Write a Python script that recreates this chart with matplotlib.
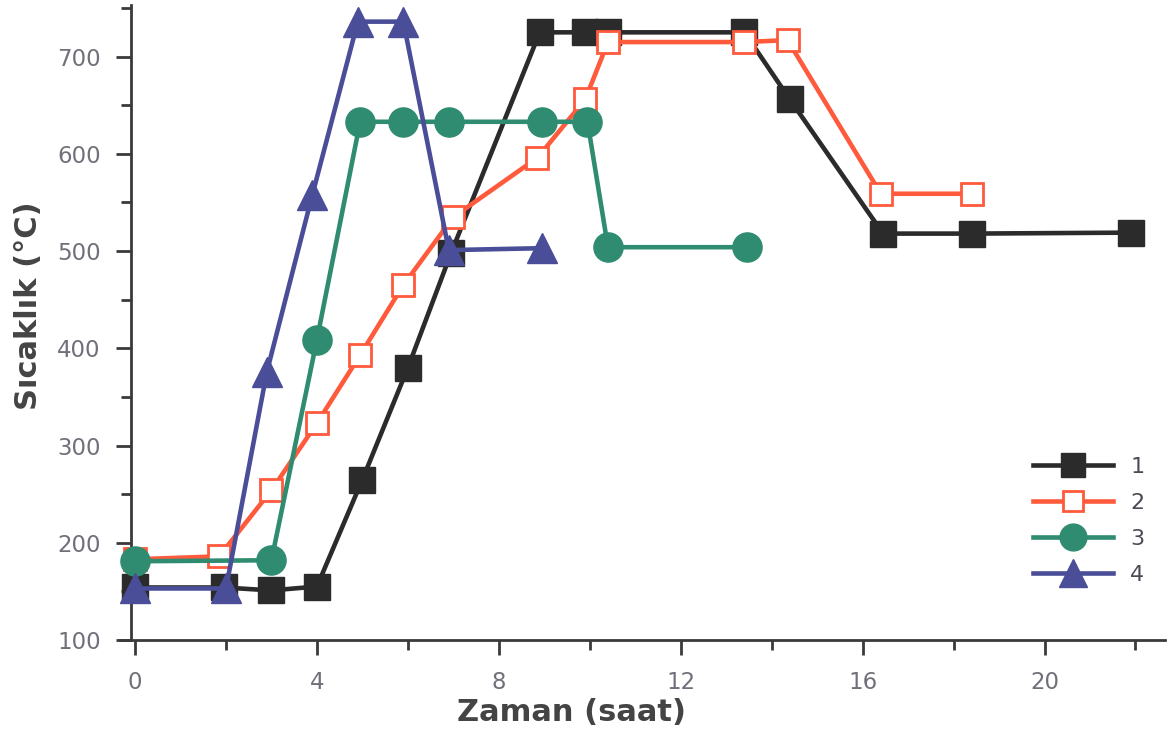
import matplotlib.pyplot as plt
from matplotlib.ticker import MultipleLocator

# series (time in hours, temperature in degC)
x1 = [0, 1.95, 3, 4, 5, 6, 6.95, 8.9, 9.9, 10.4, 13.4, 14.4, 16.45, 18.4, 21.9]
y1 = [154, 154, 151, 155, 265, 380, 498, 725, 725, 725, 725, 656, 518, 518, 519]

x2 = [0, 1.85, 3, 4, 4.95, 5.9, 7, 8.85, 9.9, 10.4, 13.4, 14.35, 16.4, 18.4]
y2 = [183, 186, 254, 323, 393, 465, 535, 596, 656, 715, 715, 717, 559, 559]

x3 = [0, 3, 4, 4.95, 5.9, 6.9, 8.95, 9.95, 10.4, 13.45]
y3 = [181, 182, 409, 633, 633, 633, 633, 633, 504, 504]

x4 = [0, 2, 2.9, 3.9, 4.9, 5.9, 6.9, 8.95]
y4 = [153, 153, 376, 558, 736, 736, 501, 503]

labels = ['1', '2', '3', '4']

black = '#2b2b2b'
red = '#ff5a3c'
green = '#2f8c70'
blue = '#4a4d98'
tick_grey = '#70707a'

fig = plt.figure(figsize=(11.71, 7.31), dpi=100)
ax = fig.add_axes([0.1025, 0.1245, 0.892, 0.8685])

ax.plot(x1, y1, color=black, lw=3.3, marker='s', ms=19, mfc=black, mec=black,
        label=labels[0], zorder=3)
ax.plot(x2, y2, color=red, lw=3.3, marker='s', ms=15.5, mfc='white', mec=red,
        mew=2, label=labels[1], zorder=4)
ax.plot(x3, y3, color=green, lw=3.3, marker='o', ms=21, mfc=green, mec=green,
        label=labels[2], zorder=5)
ax.plot(x4, y4, color=blue, lw=3.3, marker='^', ms=22, mfc=blue, mec=blue,
        label=labels[3], zorder=6)

ax.set_xlim(-0.33, 22.64)
ax.set_ylim(100, 753)

ax.spines['top'].set_visible(False)
ax.spines['right'].set_visible(False)
ax.spines['left'].set_position(('data', -0.08))
for s in ['left', 'bottom']:
    ax.spines[s].set_color('#3a3a3a')
    ax.spines[s].set_linewidth(2)

ax.xaxis.set_major_locator(MultipleLocator(4))
ax.xaxis.set_minor_locator(MultipleLocator(2))
ax.yaxis.set_major_locator(MultipleLocator(100))
ax.yaxis.set_minor_locator(MultipleLocator(50))
ax.tick_params(which='major', direction='out', length=11, width=2,
               color='#3a3a3a', labelsize=16.5, labelcolor=tick_grey, pad=11)
ax.tick_params(which='minor', direction='out', length=7, width=2,
               color='#3a3a3a')

ax.set_xlabel('Zaman (saat)', fontsize=22, fontweight='bold', color='#444444')
ax.xaxis.set_label_coords(0.4325, -0.092)
ax.set_ylabel('Sıcaklık (°C)', fontsize=22, fontweight='bold', color='#444444')
ax.yaxis.set_label_coords(-0.074, 0.527)

leg = ax.legend(loc='lower right', bbox_to_anchor=(1.0, 0.055), frameon=False,
                fontsize=16, handlelength=3.6, handletextpad=0.8,
                labelspacing=0.72, markerscale=0.92)
for t in leg.get_texts():
    t.set_color('#4a4a55')

fig.savefig('out.png', dpi=100)
